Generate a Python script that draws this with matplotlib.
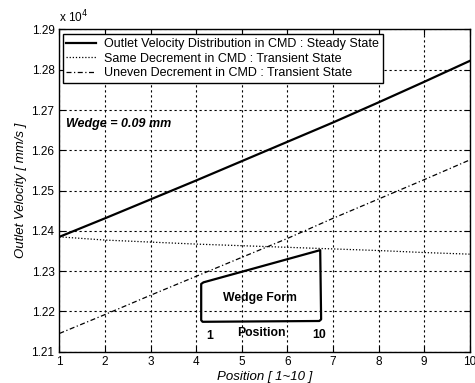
import matplotlib
matplotlib.use("Agg")
import matplotlib.pyplot as plt
from matplotlib.patches import Polygon

plt.rcParams['font.family'] = ['Liberation Sans', 'DejaVu Sans']

# Data (values in units of x 10^4 mm/s)
position = [1, 2, 3, 4, 5, 6, 7, 8, 9, 10]
steady = [1.2385, 1.2431, 1.2478, 1.2525, 1.2573, 1.2621, 1.2669, 1.2719, 1.2770, 1.2822]
same_dec = [1.2385, 1.2377, 1.2372, 1.2367, 1.2363, 1.2359, 1.2355, 1.2351, 1.2346, 1.2342]
uneven_dec = [1.2145, 1.2192, 1.2240, 1.2287, 1.2334, 1.2381, 1.2431, 1.2479, 1.2527, 1.2576]
labels = ["Outlet Velocity Distribution in CMD : Steady State",
          "Same Decrement in CMD : Transient State",
          "Uneven Decrement in CMD : Transient State"]
xticks = [1, 2, 3, 4, 5, 6, 7, 8, 9, 10]
yticks = [1.21, 1.22, 1.23, 1.24, 1.25, 1.26, 1.27, 1.28, 1.29]
ytick_labels = ["1.21", "1.22", "1.23", "1.24", "1.25", "1.26", "1.27", "1.28", "1.29"]
# inset wedge shape (position, value)
wedge_x = [4.11, 4.16, 6.72, 6.74, 6.70, 4.14, 4.11]
wedge_y = [1.2268, 1.2272, 1.2352, 1.2180, 1.2176, 1.2174, 1.2178]

fig = plt.figure(figsize=(4.75, 3.83), dpi=100)
ax = fig.add_axes([0.125, 0.082, 0.864, 0.841])

ax.plot(position, steady, color='black', lw=1.6, ls='-', label=labels[0])
ax.plot(position, same_dec, color='black', lw=0.9, ls=(0, (1, 1.5)), label=labels[1])
ax.plot(position, uneven_dec, color='black', lw=0.9, ls=(0, (4, 2, 1, 2)), label=labels[2])

ax.add_patch(Polygon(list(zip(wedge_x, wedge_y)), closed=True, fill=False,
                     edgecolor='black', lw=1.6, joinstyle='round'))
ax.text(5.39, 1.2233, "Wedge Form", ha='center', va='center', fontsize=8.8, fontweight='bold')
ax.text(4.3, 1.2138, "1", ha='center', va='center', fontsize=8.8, fontweight='bold')
ax.text(5.42, 1.2145, "Position", ha='center', va='center', fontsize=8.8, fontweight='bold')
ax.text(6.70, 1.2140, "10", ha='center', va='center', fontsize=8.8, fontweight='bold')
ax.text(1.15, 1.2666, "Wedge = 0.09 mm", ha='left', va='center', fontsize=9,
        fontweight='bold', fontstyle='italic')

ax.set_xlim(1, 10)
ax.set_ylim(1.21, 1.29)
ax.set_xticks(xticks)
ax.set_yticks(yticks)
ax.set_yticklabels(ytick_labels)
ax.grid(True, color='black', ls=(0, (2, 2.5)), lw=0.8)
ax.tick_params(direction='in', top=True, right=True, labelsize=8.5, length=4, width=0.8)
for s in ax.spines.values():
    s.set_linewidth(1.0)

ax.set_xlabel("Position [ 1~10 ]", fontsize=9.5, fontstyle='italic', labelpad=2)
ax.set_ylabel("Outlet Velocity [ mm/s ]", fontsize=9.5, fontstyle='italic', labelpad=3)
ax.text(0.0, 1.012, "x 10$^4$", transform=ax.transAxes, fontsize=8.5, ha='left', va='bottom')

leg = ax.legend(loc='upper left', bbox_to_anchor=(0.008, 0.985), fontsize=9,
                frameon=True, fancybox=False, edgecolor='black', framealpha=1,
                handlelength=2.4, handletextpad=0.6, borderpad=0.3, labelspacing=0.2,
                borderaxespad=0)
leg.get_frame().set_linewidth(1.0)

fig.savefig("out.png", dpi=100)
